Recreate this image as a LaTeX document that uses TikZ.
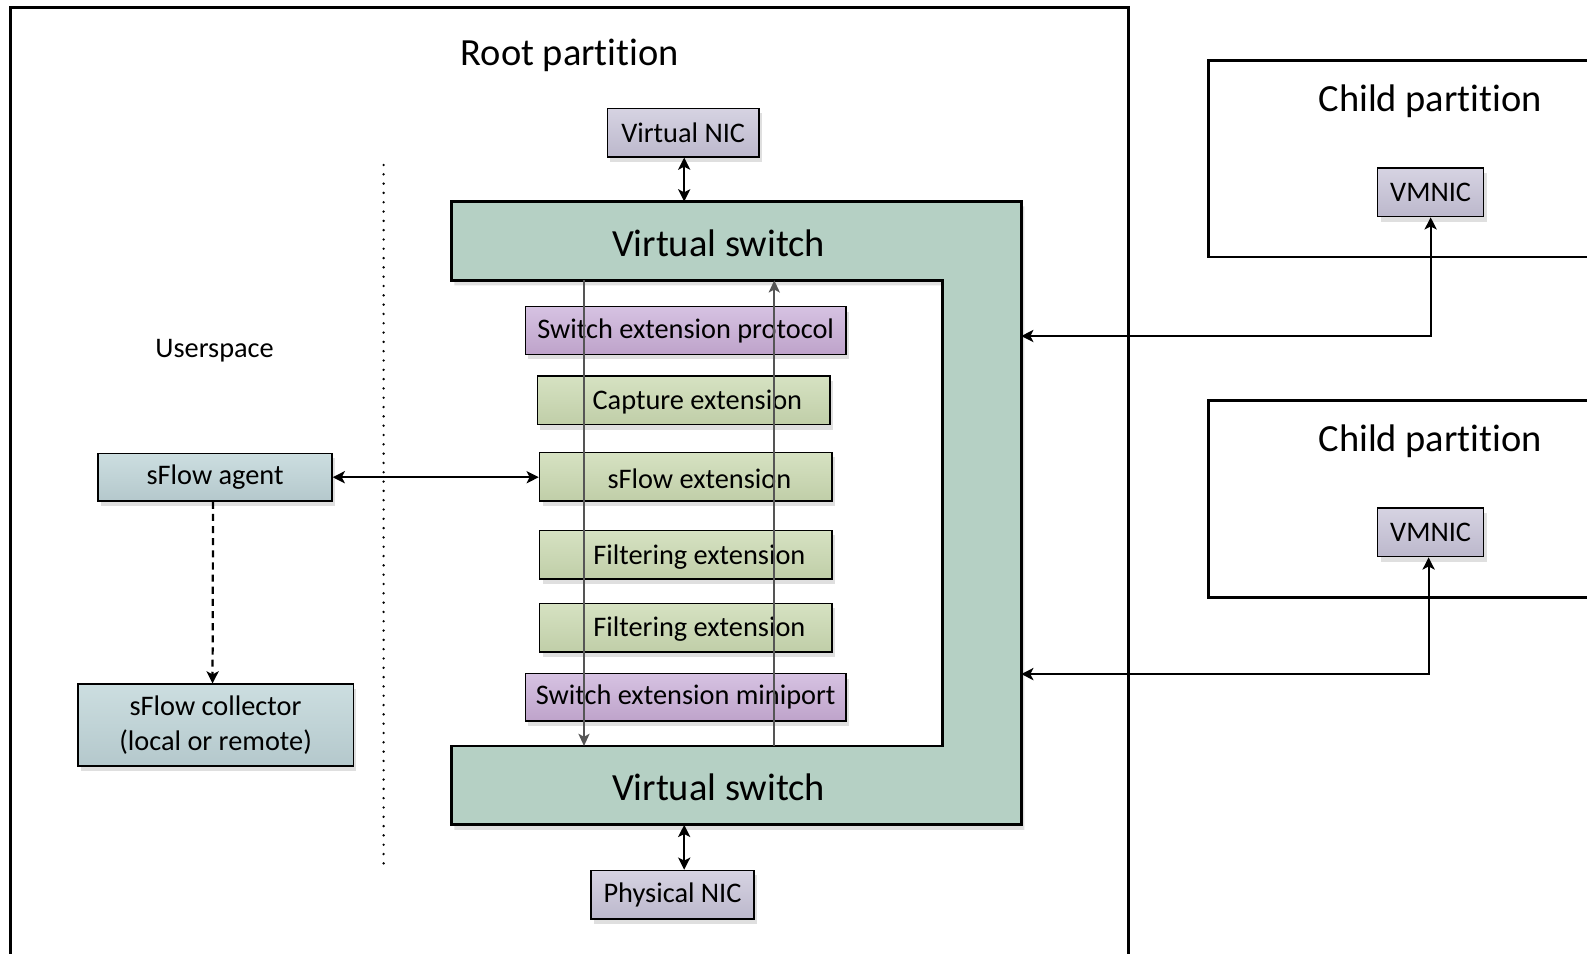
\documentclass[tikz,border=0pt]{standalone}
\usepackage{fontspec}
\setmainfont{Carlito}[Ligatures={NoCommon}]
\usetikzlibrary{shadows,arrows.meta}
\definecolor{vsfill}{RGB}{181,208,196}
\definecolor{purpT}{RGB}{214,194,226}
\definecolor{purpB}{RGB}{190,163,202}
\definecolor{greenT}{RGB}{214,226,194}
\definecolor{greenB}{RGB}{192,206,168}
\definecolor{nicT}{RGB}{214,211,226}
\definecolor{nicB}{RGB}{188,184,204}
\definecolor{agT}{RGB}{204,222,224}
\definecolor{agB}{RGB}{180,200,204}
\definecolor{flow}{RGB}{85,85,85}
\begin{document}
\begin{tikzpicture}[x=0.5pt,y=-0.5pt,
  >={Stealth[length=6pt,width=6pt,inset=1.5pt]},
  shad/.style={drop shadow={shadow xshift=1.5pt,shadow yshift=-2.5pt,opacity=0.25}},
  box/.style={draw=black,line width=0.7pt,inner sep=0pt,shad,font=\fontsize{14}{17}\selectfont},
  purp/.style={box,top color=purpT,bottom color=purpB,minimum width=158.5pt,minimum height=23.5pt},
  ext/.style={box,top color=greenT,bottom color=greenB,minimum width=144.5pt,minimum height=24pt},
  nic/.style={box,top color=nicT,bottom color=nicB,minimum height=24pt},
  ag/.style={box,top color=agT,bottom color=agB,align=center},
  title/.style={font=\fontsize{19}{22}\selectfont},
  part/.style={draw=black,line width=1.4pt},
  conn/.style={draw=black,line width=1.1pt},
  flowline/.style={draw=flow,line width=1pt,-{Stealth[length=6pt,width=5.5pt,inset=1.5pt]}}
]
\useasboundingbox (0,0) rectangle (1568,942);
\clip (0,0) rectangle (1568,942);
\fill[white] (0,0) rectangle (1568,942);

% partitions
\draw[part,line width=1.5pt] (10,7) rectangle (1115,980);
\node[title] (root) at (563,55) {Root partition};
\draw[part] (1194,60) rectangle (1620,254);
\node[title] (cp1) at (1413,100) {Child partition};
\draw[part] (1194,396) rectangle (1620,590);
\node[title] (cp2) at (1413,436) {Child partition};

\node[font=\fontsize{14}{17}\selectfont] (user) at (212,346) {Userspace};
\draw[line width=1.3pt,line cap=round,dash pattern=on 0pt off 4.6pt] (379,163) -- (379,860);

% virtual switch
\draw[fill=vsfill,line width=1.4pt,shad] (446,199) -- (1009,199) -- (1009,815) -- (446,815) -- (446,737) -- (931,737) -- (931,277) -- (446,277) -- cycle;
\node[title] (vst) at (710,240) {Virtual switch};
\node[title] (vsb) at (710,778) {Virtual switch};
\coordinate (vsTop) at (676,199);
\coordinate (vsBot) at (676,815);
\coordinate (vsR1) at (1009,332);
\coordinate (vsR2) at (1009,666);
\coordinate (l1t) at (577,277);
\coordinate (l1b) at (577,737);
\coordinate (l2t) at (765,277);
\coordinate (l2b) at (765,737);

% stack
\node[purp] (sep) at (677.5,326.5) {Switch extension protocol};
\node[ext,minimum width=144.5pt] (cap) at (675.5,395.5) {};
\node[anchor=center,font=\fontsize{14}{17}\selectfont] (capt) at (689,397) {Capture extension};
\node[ext] (sfe) at (677.5,471) {};
\node[anchor=center,font=\fontsize{14}{17}\selectfont] (sfet) at (691,473) {sFlow extension};
\node[ext] (f1) at (677.5,548) {};
\node[anchor=center,font=\fontsize{14}{17}\selectfont] (f1t) at (691,550) {Filtering extension};
\node[ext] (f2) at (677.5,620) {};
\node[anchor=center,font=\fontsize{14}{17}\selectfont] (f2t) at (691,622) {Filtering extension};
\node[purp] (sem) at (677.5,689) {Switch extension miniport};

\draw[flowline] (l1t) -- (l1b);
\draw[flowline] (l2b) -- (l2t);

% NICs
\node[nic,minimum width=75pt] (vnic) at (675,131) {Virtual NIC};
\node[nic,minimum width=80.5pt] (pnic) at (664.5,884) {Physical NIC};
\node[nic,minimum width=52.5pt] (vm1) at (1413.5,190) {VMNIC};
\node[nic,minimum width=52.5pt] (vm2) at (1413.5,526) {VMNIC};

% sFlow
\node[ag,minimum width=115.5pt,minimum height=23.5pt] (agent) at (212.5,471.5) {sFlow agent};
\node[ag,minimum width=136pt,minimum height=40.5pt] (coll) at (213,716.5) {sFlow collector\\(local or remote)};

% connectors
\draw[conn,<->] (vnic.south -| vsTop) -- (vsTop);
\draw[conn,<->] (vsBot) -- (pnic.north -| vsBot);
\draw[conn,<->] (agent.east) -- (agent.east -| sfe.west);
\draw[conn,->,dash pattern=on 3.5pt off 2.5pt] ([xshift=-1pt]agent.south) -- ([xshift=-1.5pt]coll.north);
\draw[conn,<->] (vm1.south) |- (vsR1);
\draw[conn,<->] ([xshift=-1pt]vm2.south) |- (vsR2);
\end{tikzpicture}
\end{document}
